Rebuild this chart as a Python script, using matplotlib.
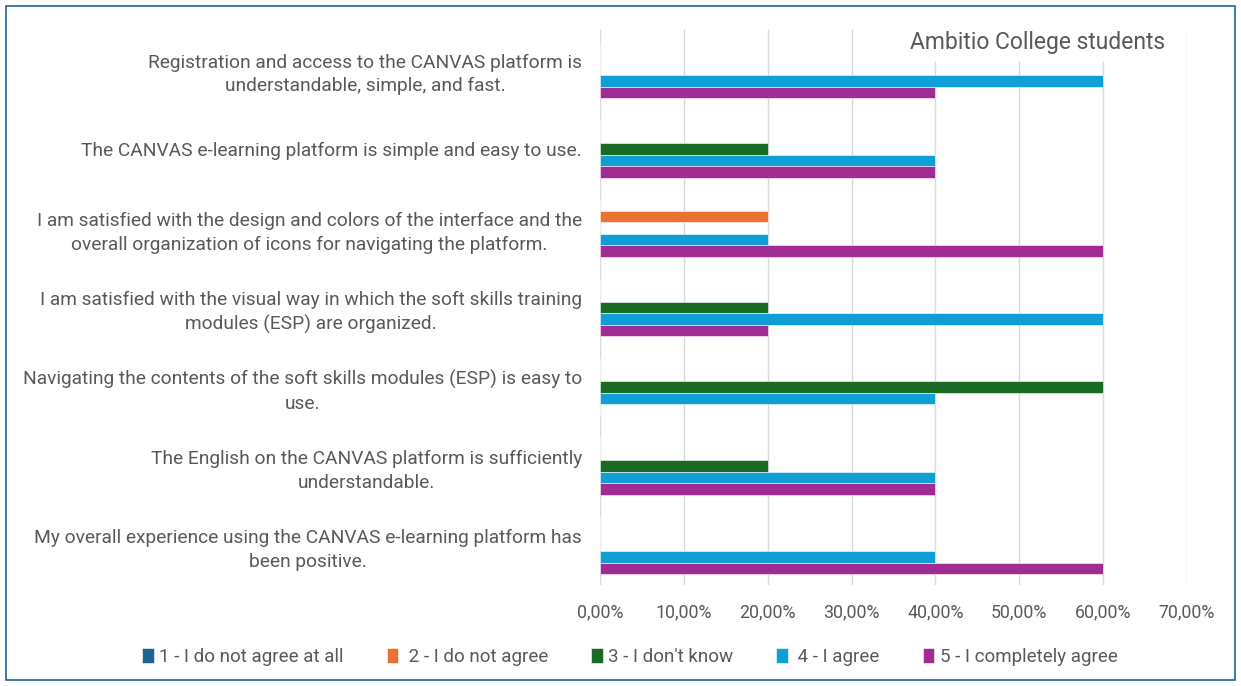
import numpy as np
import matplotlib.pyplot as plt
from matplotlib.patches import Rectangle
from matplotlib.ticker import FuncFormatter

plt.rcParams['font.family'] = ['Roboto', 'DejaVu Sans']

# ---------------- data ----------------
questions = [
    "Registration and access to the CANVAS platform is\nunderstandable, simple, and fast.",
    "The CANVAS e-learning platform is simple and easy to use.",
    "I am satisfied with the design and colors of the interface and the\noverall organization of icons for navigating the platform.",
    "I am satisfied with the visual way in which the soft skills training\nmodules (ESP) are organized.",
    "Navigating the contents of the soft skills modules (ESP) is easy to\nuse.",
    "The English on the CANVAS platform is sufficiently\nunderstandable.",
    "My overall experience using the CANVAS e-learning platform has\nbeen positive.",
]
series_names = ["1 - I do not agree at all", " 2 - I do not agree", "3 - I don't know",
                 " 4 - I agree", "5 - I completely agree"]
s1 = [0.0, 0.0, 0.0, 0.0, 0.0, 0.0, 0.0]
s2 = [0.0, 0.0, 0.2, 0.0, 0.0, 0.0, 0.0]
s3 = [0.0, 0.2, 0.0, 0.2, 0.6, 0.2, 0.0]
s4 = [0.6, 0.4, 0.2, 0.6, 0.4, 0.4, 0.4]
s5 = [0.4, 0.4, 0.6, 0.2, 0.0, 0.4, 0.6]
colors = ["#1F6391", "#E97132", "#196B24", "#0F9ED5", "#A02B93"]
title = "Ambitio College students"
xticks = [0.0, 0.1, 0.2, 0.3, 0.4, 0.5, 0.6, 0.7]

# ---------------- figure ----------------
fig = plt.figure(figsize=(12.41, 6.86), dpi=100)
ax = fig.add_axes([600/1241, 1-585/686, 587/1241, 555/686])

text_col = "#595959"
ypos = np.arange(len(questions))
h = 0.145
for i, (vals, name, col) in enumerate(zip([s1, s2, s3, s4, s5], series_names, colors)):
    ax.barh(ypos + (i-2)*h, vals, height=h, color=col, label=name,
            edgecolor='white', linewidth=0.4)

ax.set_ylim(len(questions)-0.5, -0.5)
ax.set_xlim(0, 0.7)
ax.set_xticks(xticks)
ax.xaxis.set_major_formatter(FuncFormatter(lambda v, p: ("%.2f%%" % (v*100)).replace('.', ',')))
ax.set_yticks(ypos)
ax.set_yticklabels(questions)
for t in ax.get_yticklabels():
    t.set_multialignment('center')
    t.set_linespacing(1.4)
ax.tick_params(axis='y', length=0, pad=13, labelsize=13.8, labelcolor=text_col)
ax.tick_params(axis='x', length=0, pad=13, labelsize=12.8, labelcolor=text_col)
ax.grid(axis='x', color='#D9D9D9', linewidth=1)
ax.set_axisbelow(True)
for sp in ax.spines.values():
    sp.set_visible(False)

fig.text(1038/1241, 1-42/686, title, ha='center', va='center', fontsize=16.5, color=text_col,
         bbox=dict(facecolor='white', edgecolor='none', pad=6), zorder=5)

fig.legend(loc='center', bbox_to_anchor=(630/1241, 1-657/686), ncol=5, frameon=False,
           fontsize=13.5, labelcolor=text_col, handlelength=0.6, handleheight=0.8,
           handletextpad=0.3, columnspacing=2.3)

fig.patches.append(Rectangle((6/1241, 6/686), 1229/1241, 674/686, transform=fig.transFigure,
                             fill=False, edgecolor='#1F6391', linewidth=1.2))

fig.savefig("out.png", dpi=100)
